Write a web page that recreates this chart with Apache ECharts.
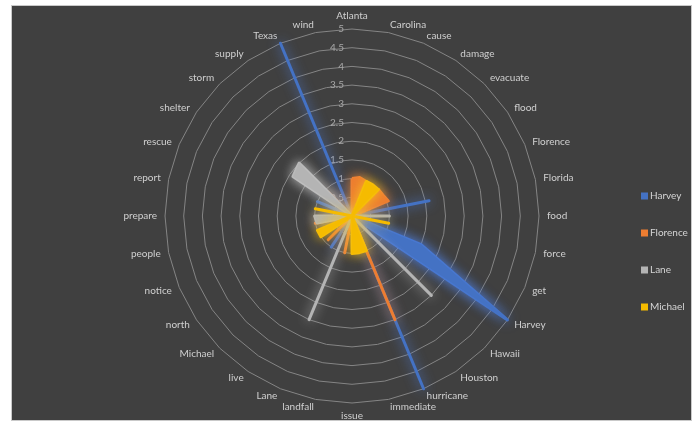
<!DOCTYPE html>
<html>
<head>
<meta charset="utf-8">
<script src="https://cdn.jsdelivr.net/npm/echarts@6/dist/echarts.min.js"></script>
<style>
  html, body { margin: 0; padding: 0; background: #ffffff; width: 696px; height: 423px; overflow: hidden; }
  #panel { position: absolute; left: 11px; top: 5px; width: 681px; height: 416px; background: #404040;
           border: 1px solid #c9c9c9; box-sizing: border-box; }
  #chart { width: 100%; height: 100%; }
</style>
</head>
<body>
<div id="panel"><div id="chart"></div></div>
<script>
// Keyword categories, listed clockwise starting at the top
const categories = ['Atlanta', 'Carolina', 'cause', 'damage', 'evacuate', 'flood', 'Florence', 'Florida',
  'food', 'force', 'get', 'Harvey', 'Hawaii', 'Houston', 'hurricane', 'immediate', 'issue', 'landfall',
  'Lane', 'live', 'Michael', 'north', 'notice', 'people', 'prepare', 'report', 'rescue', 'shelter',
  'storm', 'supply', 'Texas', 'wind'];

// Scores per storm, same order as categories
const harvey   = [0, 0, 0, 0, 0, 0, 0, 2.1, 0, 0, 2.0, 5, 0, 0, 5, 0, 0, 0, 0, 1.0, 0, 0, 0, 0, 0, 0, 1.0, 0, 0, 0, 5, 0];
const florence = [1.0, 1.05, 1.0, 0, 1.0, 1.0, 1.05, 0, 0, 0, 0, 0, 0, 0, 3.0, 0, 0, 1.0, 0, 0, 0.9, 0, 0, 1.0, 0, 0, 0, 0, 0.9, 0, 0, 0];
const lane     = [0, 0, 0, 0, 0, 0, 0, 0, 1.0, 0, 0, 0, 3.0, 0, 0, 0, 0, 0, 3.0, 0, 0, 0, 0, 0.95, 1.0, 0, 0, 1.9, 2.0, 0, 0, 0];
const michael  = [0, 0, 1.0, 1.0, 1.0, 0, 0, 0, 0, 1.0, 0, 0, 0, 0, 1.0, 1.0, 1.0, 0, 0, 0, 0, 1.0, 1.0, 0, 0, 1.0, 0, 0, 0, 0, 0, 0];

const seriesNames = ['Harvey', 'Florence', 'Lane', 'Michael'];
const seriesValues = [harvey, florence, lane, michael];
const seriesColors = ['#4472c4', '#ed7d31', '#b4b4b4', '#f5bb00'];
const glowColors = ['rgba(80,130,230,0.9)', 'rgba(240,140,70,0.8)', 'rgba(210,210,210,0.8)', 'rgba(250,200,30,0.8)'];

// Radar indicators run counter-clockwise, so walk the list backwards after the first entry
const order = [0].concat(categories.map((_, i) => i).slice(1).reverse());
const reorder = arr => order.map(i => arr[i]);

const chart = echarts.init(document.getElementById('chart'), null, { renderer: 'canvas' });

chart.setOption({
  backgroundColor: 'transparent',
  animation: false,
  color: seriesColors,
  legend: {
    orient: 'vertical',
    left: 624,
    top: 179,
    itemGap: 25,
    itemWidth: 7,
    itemHeight: 7,
    icon: 'rect',
    data: seriesNames,
    itemStyle: { shadowBlur: 0 },
    lineStyle: { width: 0 },
    textStyle: { color: '#d4d4d4', fontSize: 10, fontFamily: 'Lato', lineHeight: 12, padding: [0, 0, 0, -3] }
  },
  radar: {
    center: [340, 210],
    radius: 187,
    startAngle: 90,
    shape: 'polygon',
    splitNumber: 10,
    nameGap: 8,
    indicator: reorder(categories).map((name, i) => {
      const ind = { name: name, min: 0, max: 5 };
      if (i === 0) {
        ind.axisLabel = { show: true, color: '#a8a8a8', fontSize: 10, fontFamily: 'Lato', margin: 8 };
      }
      return ind;
    }),
    axisName: { color: '#d0d0d0', fontSize: 10, fontFamily: 'Lato' },
    axisLine: { show: false },
    axisTick: { show: false },
    axisLabel: { show: false },
    splitLine: { lineStyle: { color: '#858585', width: 1 } },
    splitArea: { show: false }
  },
  series: seriesNames.map((name, k) => ({
    type: 'radar',
    name: name,
    symbol: 'none',
    z: 2 + k,
    itemStyle: { color: seriesColors[k] },
    lineStyle: { color: seriesColors[k], width: 3, shadowBlur: 12, shadowColor: glowColors[k] },
    areaStyle: { color: seriesColors[k], opacity: 1, shadowBlur: 12, shadowColor: glowColors[k] },
    data: [{ name: name, value: reorder(seriesValues[k]) }]
  }))
});
</script>
</body>
</html>
